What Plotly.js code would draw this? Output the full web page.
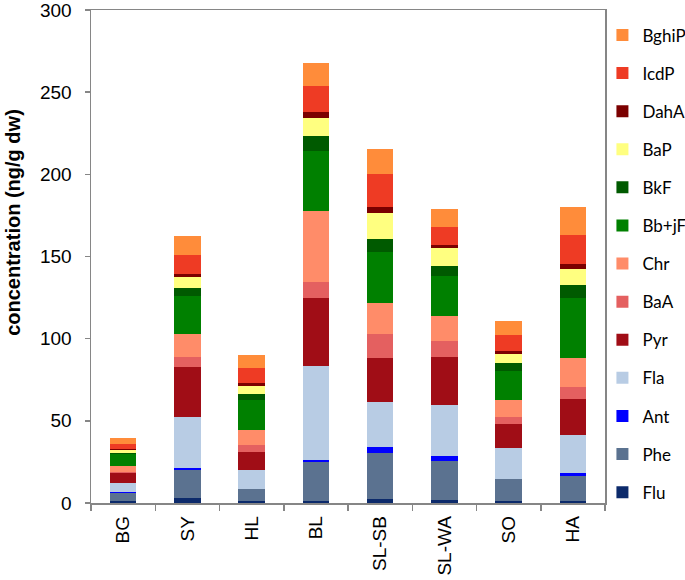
<!DOCTYPE html>
<html>
<head>
<meta charset="utf-8">
<script src="https://cdn.plot.ly/plotly-3.0.1.min.js"></script>
<style>html,body{margin:0;padding:0;background:#fff;}#chart{width:685px;height:580px;}</style>
</head>
<body>
<div id="chart"></div>
<script>
const sites = ["BG", "SY", "HL", "BL", "SL-SB", "SL-WA", "SO", "HA"];

const Flu   = [1.0, 2.8, 1.0, 1.0, 2.2, 2.0, 1.0, 1.0];
const Phe   = [5.2, 17.2, 7.3, 23.7, 28.5, 23.6, 13.4, 15.5];
const Ant   = [0.3, 1.6, 0.3, 1.3, 3.1, 2.9, 0.3, 1.5];
const Fla   = [5.8, 30.7, 11.2, 57.5, 27.6, 30.9, 18.8, 23.2];
const Pyr   = [5.7, 30.7, 11.5, 41.1, 26.9, 29.3, 14.8, 22.3];
const BaA   = [0.8, 5.7, 3.9, 9.6, 14.3, 10.1, 4.0, 7.0];
const Chr   = [3.6, 14.1, 9.0, 43.2, 19.4, 15.1, 10.1, 17.8];
const BbjF  = [7.3, 23.2, 18.2, 36.5, 30.7, 24.3, 18.2, 36.4];
const BkF   = [1.0, 5.1, 4.1, 9.3, 8.1, 5.8, 4.4, 8.2];
const BaP   = [1.4, 6.5, 4.6, 11.3, 15.8, 11.0, 5.7, 9.3];
const DahA  = [0.5, 2.0, 1.8, 3.3, 3.8, 2.2, 1.8, 3.1];
const IcdP  = [3.5, 11.3, 9.3, 15.9, 19.8, 10.9, 9.7, 17.9];
const BghiP = [3.2, 11.3, 7.9, 13.8, 15.4, 11.1, 8.5, 16.8];

const compounds = ["Flu", "Phe", "Ant", "Fla", "Pyr", "BaA", "Chr", "Bb+jF", "BkF", "BaP", "DahA", "IcdP", "BghiP"];
const seriesValues = [Flu, Phe, Ant, Fla, Pyr, BaA, Chr, BbjF, BkF, BaP, DahA, IcdP, BghiP];
const colors = ["#0C2A6B", "#5B7290", "#0000FF", "#B8CCE4", "#A00D16", "#E46060", "#FF8C69",
                "#008000", "#005A00", "#FFFF80", "#7B0000", "#EE3B24", "#FF8C3A"];
const yTitle = "concentration (ng/g dw)";

const traces = compounds.map((name, i) => ({
  type: "bar",
  name: name,
  x: sites,
  y: seriesValues[i],
  legendgroup: name,
  legendrank: 1000 - i,
  marker: {color: colors[i], line: {width: 0}},
  hoverinfo: "x+y+name"
}));

const layout = {
  width: 685,
  height: 580,
  barmode: "stack",
  bargap: 0.59,
  paper_bgcolor: "#ffffff",
  plot_bgcolor: "#ffffff",
  margin: {l: 91, r: 80, t: 10, b: 77, autoexpand: false},
  font: {family: "Liberation Sans, Arial, sans-serif", color: "#000"},
  xaxis: {
    showline: true, linecolor: "#868686", linewidth: 1.5, mirror: true,
    ticks: "outside", ticklen: 6, tickcolor: "#868686", tickwidth: 1.5,
    tickson: "boundaries",
    tickangle: -90,
    ticklabelstandoff: 4,
    tickfont: {size: 19, family: "Liberation Sans, Arial, sans-serif"},
    showgrid: false, zeroline: false
  },
  yaxis: {
    range: [0, 300], dtick: 50,
    showline: true, linecolor: "#868686", linewidth: 1.5, mirror: true,
    ticks: "outside", ticklen: 5, tickcolor: "#868686", tickwidth: 1.5,
    ticklabelstandoff: 9,
    ticklabeloverflow: "allow",
    tickfont: {size: 19, family: "Liberation Sans, Arial, sans-serif"},
    showgrid: false, zeroline: false
  },
  annotations: [{
    text: "<b>" + yTitle + "</b>",
    xref: "paper", yref: "paper",
    x: -0.152, y: 0.57,
    xanchor: "center", yanchor: "middle",
    textangle: -90,
    showarrow: false,
    font: {size: 20, family: "Liberation Sans, Arial, sans-serif", color: "#000"}
  }],
  legend: {
    traceorder: "grouped",
    tracegroupgap: 13,
    x: 0.995, xanchor: "left",
    y: 0.985, yanchor: "top",
    font: {size: 17, family: "Lato, Open Sans, sans-serif"},
    bgcolor: "rgba(0,0,0,0)"
  },
  showlegend: true
};

Plotly.newPlot("chart", traces, layout, {displayModeBar: false, staticPlot: true});
</script>
</body>
</html>
